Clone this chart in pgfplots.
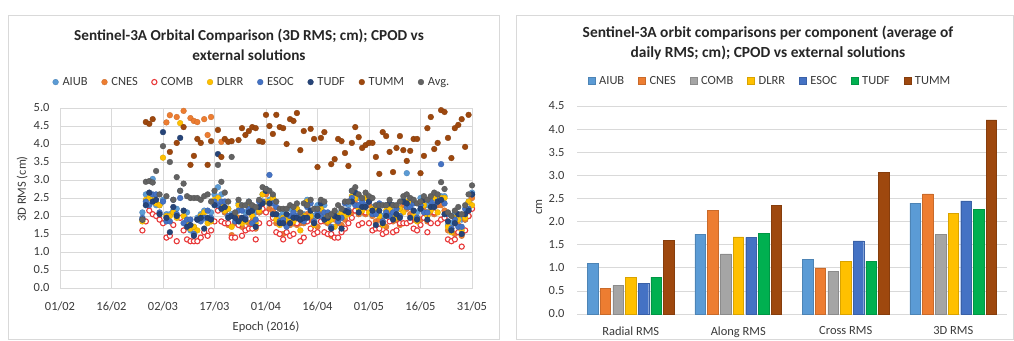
\documentclass[border=0pt]{standalone}
\usepackage{fontspec}
\setmainfont{Carlito}
\usepackage{pgfplots}
\usepackage{pgfplotstable}
\pgfplotsset{compat=1.18}
\definecolor{cAIUB}{HTML}{5B9BD5}
\definecolor{cCNES}{HTML}{ED7D31}
\definecolor{cCOMB}{HTML}{A5A5A5}
\definecolor{cDLRR}{HTML}{FFC000}
\definecolor{cESOC}{HTML}{4472C4}
\definecolor{cTUDF}{HTML}{00B050}
\definecolor{cTUMM}{HTML}{9E480E}
\definecolor{sTUDF}{HTML}{264478}
\definecolor{sAvg}{HTML}{636363}
\definecolor{sCOMB}{HTML}{E8393A}
\definecolor{gridc}{HTML}{D9D9D9}
\definecolor{textc}{HTML}{3A3A3A}

\pgfplotstableread{
d A CN CO D E T TM Av
24 2.1 nan 1.6 1.85 1.95 1.9 nan 1.9
25 2.6 nan 1.85 2.45 2.4 2.3 4.61 2.95
26 2.5 nan 2.15 2.5 2.3 2.65 4.56 2.97
27 3.03 nan 2.05 2.5 2.6 2.4 4.69 2.93
28 2.3 nan 2.0 2.35 2.6 2.45 nan 3.25
29 2.3 nan 1.9 2.3 2.1 2.05 nan 2.6
30 2.45 nan 1.8 3.62 2.4 4.33 nan 3.94
31 2.05 4.6 1.4 2.0 1.85 1.95 nan 2.55
32 2.05 4.8 1.45 2.0 1.85 1.55 3.78 3.5
33 2.15 nan 1.75 2.1 2.45 2.25 nan 2.45
34 2.2 4.75 1.3 1.95 2.05 2.0 4.03 3.08
35 2.7 nan 1.95 4.58 2.5 4.17 nan 2.7
36 2.0 4.92 1.6 2.0 1.8 2.15 4.47 2.9
37 2.1 nan 1.35 1.8 1.9 1.7 nan 2.55
38 1.6 4.72 1.3 1.65 1.9 1.75 3.42 2.5
39 1.7 4.64 1.3 1.7 1.5 1.45 3.67 2.5
40 1.95 4.61 1.3 1.6 1.9 1.9 4.14 2.5
41 2.05 nan 1.4 2.0 1.85 1.95 4.03 2.45
42 2.15 4.69 1.55 2.1 1.95 1.65 nan 2.55
43 1.85 4.25 1.45 1.8 2.15 1.95 3.42 2.6
44 2.1 4.75 1.6 1.85 1.95 1.9 4.08 2.4
45 2.6 nan 1.85 2.45 2.4 2.3 nan 2.7
46 2.8 nan 2.15 2.5 2.3 3.72 4.39 3.42
47 2.6 4.06 1.85 2.3 2.4 2.2 3.64 2.95
48 2.1 2.1 1.8 2.15 2.4 2.25 4.14 2.65
49 2.2 1.75 1.8 2.2 2.0 1.95 4.06 2.4
50 2.05 1.47 1.4 1.7 2.0 2.0 4.08 3.64
51 2.05 1.8 1.4 2.0 1.85 1.95 nan 2.1
52 2.35 1.95 1.75 2.3 2.15 1.85 4.11 2.45
53 1.85 1.7 1.45 1.8 2.15 1.95 4.44 2.3
54 2.1 1.95 1.6 1.85 1.95 1.9 4.25 2.3
55 2.4 1.8 1.65 2.25 2.2 2.1 4.36 2.4
56 2.0 1.85 1.65 2.0 1.8 2.15 4.47 2.3
57 2.1 1.65 1.35 1.8 1.9 1.7 4.44 2.25
58 2.1 2.1 1.8 2.15 2.4 2.25 4.08 2.45
59 2.6 2.15 2.2 2.6 2.4 2.35 4.06 2.8
60 2.75 2.6 2.1 2.4 2.7 2.7 4.81 2.75
61 2.45 2.2 1.8 2.4 3.14 2.35 4.5 2.7
62 2.55 2.15 1.95 2.5 2.35 2.05 4.28 2.6
63 1.95 1.8 1.55 1.9 2.25 2.05 4.81 2.4
64 2.0 1.85 1.5 1.75 1.85 1.8 4.47 2.2
65 2.1 1.5 1.35 1.95 1.9 1.8 4.44 2.2
66 1.9 1.75 1.55 1.9 1.7 2.05 4.0 2.2
67 2.2 1.75 1.45 1.9 2.0 1.8 4.69 2.3
68 1.8 1.8 1.5 1.85 2.1 1.95 4.64 2.25
69 2.2 1.75 1.8 2.2 2.0 1.95 4.86 2.35
70 1.95 1.8 1.3 1.6 1.9 1.9 3.83 2.1
71 2.05 1.8 1.4 2.0 1.85 1.95 4.36 2.35
72 2.45 2.05 1.85 2.4 2.25 1.95 nan 2.3
73 2.05 1.9 1.65 2.0 2.35 2.15 4.42 2.45
74 2.0 1.85 1.5 1.75 1.85 1.8 4.14 2.2
75 2.3 1.7 1.55 2.15 2.1 2.0 3.36 2.2
76 2.2 2.05 1.85 2.2 2.0 2.35 4.17 2.45
77 2.3 1.85 1.55 2.0 2.1 1.9 4.33 2.4
78 1.8 1.8 1.5 1.85 2.1 1.95 nan 2.0
79 1.9 1.45 1.5 1.9 1.7 1.65 3.44 2.05
80 2.05 1.9 1.4 1.7 2.0 2.0 3.58 2.15
81 2.05 1.8 1.4 2.0 1.85 1.95 4.14 2.3
82 2.15 1.75 1.55 2.1 1.95 1.65 4.08 2.2
83 2.05 1.9 1.65 2.0 2.35 2.15 3.75 2.4
84 2.3 2.15 1.8 2.05 2.15 2.1 3.39 2.4
85 2.7 2.1 1.95 2.55 2.5 2.4 4.03 2.7
86 2.5 2.35 2.15 2.5 2.3 2.65 4.47 2.8
87 2.5 2.05 1.75 2.2 2.3 2.1 4.19 2.6
88 2.1 2.1 1.8 2.15 2.4 2.25 3.89 2.5
89 2.5 2.05 2.1 2.5 2.3 2.25 3.97 2.65
90 2.45 2.3 1.8 2.1 2.4 2.4 4.03 2.55
91 2.25 2.0 1.6 2.2 2.05 2.15 4.03 2.5
92 2.25 1.85 1.65 2.2 2.05 1.75 3.64 2.3
93 2.05 1.9 1.65 2.0 2.35 2.15 3.17 2.3
94 2.0 1.85 1.5 1.75 1.85 1.8 4.33 2.3
95 2.3 1.7 1.55 2.15 2.1 2.0 4.22 2.3
96 2.2 2.05 1.85 2.2 2.0 2.35 3.78 2.45
97 2.3 1.85 1.55 2.0 2.1 1.9 3.22 2.3
98 1.9 1.9 1.6 1.95 2.2 2.05 3.89 2.3
99 2.2 1.75 1.8 2.2 2.0 1.95 4.22 2.4
100 2.45 2.3 1.8 2.1 2.4 2.4 3.83 2.55
101 3.19 2.2 1.8 2.4 2.25 2.35 3.53 2.6
102 2.45 2.05 1.85 2.4 2.25 1.95 3.81 2.5
103 2.05 1.9 1.65 2.0 2.35 2.15 4.14 2.45
104 2.1 1.95 1.6 1.85 1.95 1.9 4.14 2.35
105 2.5 1.9 1.75 2.35 2.3 2.2 3.19 2.4
106 2.3 2.15 1.95 2.3 2.1 2.45 3.67 2.55
107 2.3 1.85 1.55 2.0 2.1 1.9 4.44 2.45
108 2.1 2.1 1.8 2.15 2.4 2.25 4.75 2.55
109 2.5 2.05 2.1 2.5 2.3 2.25 3.86 2.65
110 2.45 2.3 1.8 2.1 2.4 2.4 4.03 2.6
111 2.55 2.3 1.9 2.5 3.44 2.45 4.94 2.94
112 2.55 2.15 1.95 2.5 2.35 2.05 4.89 2.75
113 1.75 1.6 1.35 1.7 2.05 1.85 4.17 2.1
114 1.8 1.65 1.3 1.55 1.65 1.6 3.61 2.0
115 2.1 1.5 1.35 1.95 1.9 1.8 4.44 2.15
116 1.9 1.75 1.55 1.9 1.7 2.05 4.53 2.25
117 1.9 1.45 1.15 1.6 1.7 1.5 4.69 2.05
118 1.9 1.9 1.6 1.95 2.2 2.05 3.92 2.3
119 2.4 2.0 2.0 2.4 2.2 2.15 4.81 2.6
120 2.65 2.5 2.2 2.3 2.6 2.6 nan 2.85
}\scatterdata

\pgfplotstableread{
x AIUB CNES COMB DLRR ESOC TUDF TUMM
0 1.10 0.55 0.62 0.80 0.67 0.80 1.60
1 1.73 2.25 1.30 1.67 1.66 1.75 2.35
2 1.18 1.00 0.92 1.14 1.58 1.14 3.07
3 2.40 2.60 1.72 2.18 2.45 2.27 4.20
}\bardata

\pgfplotsset{
  every axis/.append style={
    font=\fontsize{12.5}{14}\selectfont,
    tick label style={text=textc},
    label style={text=textc},
    /pgf/number format/assume math mode=true,
  },
}

\begin{document}
\begin{tikzpicture}[x=1bp,y=1bp]
\useasboundingbox (0,0) rectangle (1014,340);
\fill[white] (0,0) rectangle (1014,340);
\draw[gridc, line width=0.8bp] (8,1) rectangle (499,325);
\draw[gridc, line width=0.8bp] (516,1) rectangle (1013,325);

% ---------------- left scatter ----------------
\begin{axis}[
  at={(60bp,52bp)}, anchor=south west,
  scale only axis, width=412bp, height=180bp,
  xmin=0, xmax=120, ymin=0, ymax=5,
  xtick={0,15,...,120},
  xticklabels={01/02,16/02,02/03,17/03,01/04,16/04,01/05,16/05,31/05},
  ytick={0,0.5,...,5},
  /pgf/number format/fixed, /pgf/number format/fixed zerofill, /pgf/number format/precision=1,
  grid=major, grid style={gridc, line width=0.6bp},
  axis line style={gridc, line width=0.6bp},
  major tick length=0pt,
  xticklabel style={yshift=-10bp},
  yticklabel style={xshift=-7bp},
  xlabel={Epoch (2016)}, ylabel={3D RMS (cm)},
  xlabel style={at={(axis description cs:0.5,-0.217)}, anchor=center},
  ylabel style={at={(axis description cs:-0.092,0.55)}, anchor=center},
  legend columns=8,
  legend style={draw=none, fill=none, at={(0.466,1.144)}, anchor=center,
    font=\fontsize{12.5}{14}\selectfont, text=textc,
    /tikz/every even column/.append style={column sep=12bp},
    /tikz/every odd column/.append style={column sep=2bp},
    inner sep=0pt},
  legend cell align=left,
  every axis plot/.append style={only marks, mark=*, mark size=2.9bp},
]
\addplot[mark options={fill=cAIUB, draw=cAIUB!85!black, line width=0.3bp}] table[x=d,y=A]{\scatterdata};
\addplot[mark options={fill=cCNES, draw=cCNES!85!black, line width=0.3bp}] table[x=d,y=CN]{\scatterdata};
\addplot[mark options={fill=white, draw=sCOMB, line width=1.1bp}, mark size=2.6bp] table[x=d,y=CO]{\scatterdata};
\addplot[mark options={fill=cDLRR, draw=cDLRR!85!black, line width=0.3bp}] table[x=d,y=D]{\scatterdata};
\addplot[mark options={fill=cESOC, draw=cESOC!85!black, line width=0.3bp}] table[x=d,y=E]{\scatterdata};
\addplot[mark options={fill=sTUDF, draw=sTUDF!85!black, line width=0.3bp}] table[x=d,y=T]{\scatterdata};
\addplot[mark options={fill=cTUMM, draw=cTUMM!85!black, line width=0.3bp}] table[x=d,y=TM]{\scatterdata};
\addplot[mark options={fill=sAvg, draw=sAvg!85!black, line width=0.3bp}] table[x=d,y=Av]{\scatterdata};
\legend{AIUB,CNES,COMB,DLRR,ESOC,TUDF,TUMM,Avg.}
\end{axis}

% ---------------- right bars ----------------
\begin{axis}[
  at={(577bp,26bp)}, anchor=south west,
  scale only axis, width=430bp, height=208bp,
  xmin=-0.5, xmax=3.5, ymin=0, ymax=4.5,
  ybar=2.2bp, bar width=10.5bp,
  xtick={0,1,2,3},
  xticklabels={Radial RMS, Along RMS, Cross RMS, 3D RMS},
  ytick={0,0.5,...,4.5},
  /pgf/number format/fixed, /pgf/number format/fixed zerofill, /pgf/number format/precision=1,
  ymajorgrids, grid style={gridc, line width=0.6bp},
  axis x line*=bottom, axis y line*=left,
  x axis line style={gridc, line width=0.6bp},
  y axis line style={draw=none},
  major tick length=0pt,
  xticklabel style={yshift=-9bp},
  yticklabel style={xshift=-9bp},
  ylabel={cm},
  ylabel style={at={(axis description cs:-0.088,0.514)}, anchor=center},
  legend columns=7,
  legend style={draw=none, fill=none, at={(0.449,1.12)}, anchor=center,
    font=\fontsize{12.5}{14}\selectfont, text=textc,
    /tikz/every even column/.append style={column sep=12bp},
    /tikz/every odd column/.append style={column sep=2bp},
    inner sep=0pt},
  legend image code/.code={\fill[#1] (0bp,-3.5bp) rectangle (7bp,3.5bp);},
]
\addplot[fill=cAIUB, draw=cAIUB!85!black, line width=0.3bp] table[x=x,y=AIUB]{\bardata};
\addplot[fill=cCNES, draw=cCNES!85!black, line width=0.3bp] table[x=x,y=CNES]{\bardata};
\addplot[fill=cCOMB, draw=cCOMB!85!black, line width=0.3bp] table[x=x,y=COMB]{\bardata};
\addplot[fill=cDLRR, draw=cDLRR!85!black, line width=0.3bp] table[x=x,y=DLRR]{\bardata};
\addplot[fill=cESOC, draw=cESOC!85!black, line width=0.3bp] table[x=x,y=ESOC]{\bardata};
\addplot[fill=cTUDF, draw=cTUDF!85!black, line width=0.3bp] table[x=x,y=TUDF]{\bardata};
\addplot[fill=cTUMM, draw=cTUMM!85!black, line width=0.3bp] table[x=x,y=TUMM]{\bardata};
\legend{AIUB,CNES,COMB,DLRR,ESOC,TUDF,TUMM}
\end{axis}

\node[font=\bfseries\fontsize{15.3}{20}\selectfont, align=center, text=black!85] at (249,295) {Sentinel-3A Orbital Comparison (3D RMS; cm); CPOD vs\\external solutions};
\node[font=\bfseries\fontsize{15.5}{20.5}\selectfont, align=center, text=black!85] at (768,297) {Sentinel-3A orbit comparisons per component (average of\\daily RMS; cm); CPOD vs external solutions};
\end{tikzpicture}
\end{document}
